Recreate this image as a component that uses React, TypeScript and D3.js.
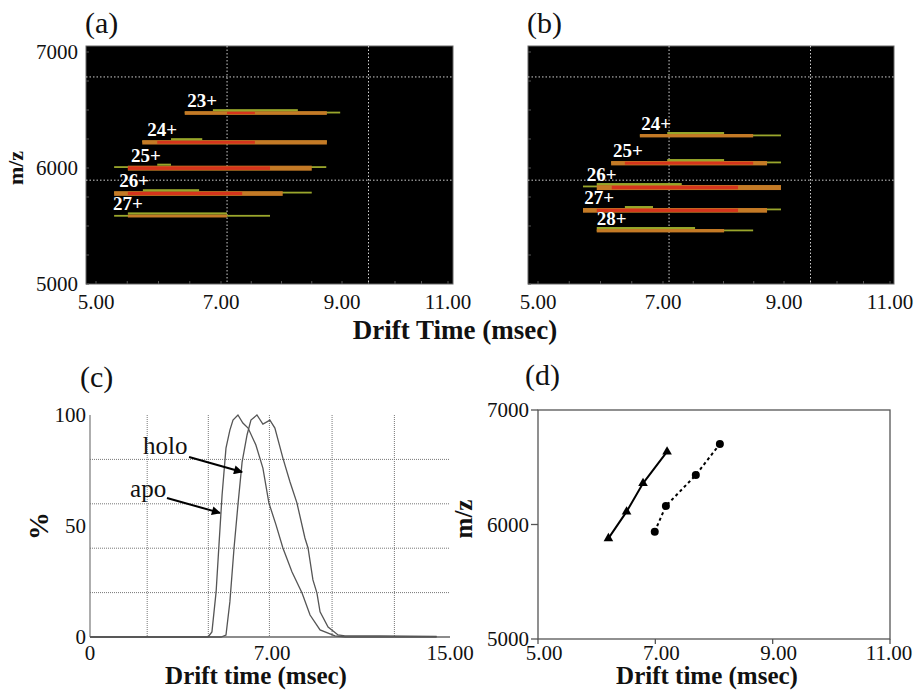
import React, { useEffect, useRef } from 'react';
import * as d3 from 'd3';

// (a) / (b) ion mobility maps
const driftTicks = [5, 7, 9, 11];
const driftTickLabels = ['5.00', '7.00', '9.00', '11.00'];
const mzTicks = [5000, 6000, 7000];
const mapGridDrift = [7.1, 9.5];
const mapGridMz = [5895, 6785];

// arrival time bands per charge state, drift times in msec
const apoIons = [
  { charge: '23+', mz: 6490, level: 0.6, labelAt: 6.46, tail: [6.42, 8.97], body: [6.42, 8.75], hot: [7.1, 7.56], cap: [6.87, 8.27] },
  { charge: '24+', mz: 6240, level: 0.8, labelAt: 5.82, tail: [5.74, 8.75], body: [5.74, 8.75], hot: [5.98, 7.56], cap: [6.2, 6.7] },
  { charge: '25+', mz: 6020, level: 1.0, labelAt: 5.56, tail: [5.29, 8.74], body: [5.51, 8.5], hot: [5.51, 7.81], cap: [5.98, 6.2] },
  { charge: '26+', mz: 5800, level: 0.9, labelAt: 5.37, tail: [5.29, 8.5], body: [5.29, 8.02], hot: [5.51, 7.35], cap: [5.75, 6.65] },
  { charge: '27+', mz: 5600, level: 0.4, labelAt: 5.27, tail: [5.29, 7.81], body: [5.51, 7.1], hot: null, cap: [5.51, 7.1] },
];

const holoIons = [
  { charge: '24+', mz: 6293, level: 0.5, labelAt: 6.65, tail: [6.63, 8.95], body: [6.63, 8.49], hot: null, cap: [7.07, 8.01] },
  { charge: '25+', mz: 6060, level: 0.8, labelAt: 6.2, tail: [6.17, 8.95], body: [6.17, 8.72], hot: [6.39, 8.49], cap: [7.07, 8.01] },
  { charge: '26+', mz: 5853, level: 1.0, labelAt: 5.78, tail: [5.72, 8.95], body: [5.94, 8.95], hot: [6.18, 8.24], cap: [5.94, 7.31] },
  { charge: '27+', mz: 5655, level: 0.9, labelAt: 5.74, tail: [5.72, 8.95], body: [5.72, 8.72], hot: [5.94, 8.24], cap: [6.39, 6.84] },
  { charge: '28+', mz: 5474, level: 0.5, labelAt: 5.94, tail: [5.94, 8.49], body: [5.94, 8.01], hot: null, cap: [5.94, 7.53] },
];

// (c) arrival time distributions, [drift time, %]
const apoProfile = [
  [0, 0], [4.54, 0], [4.69, 2.3], [4.85, 20.3], [4.96, 41.4], [5.08, 64], [5.23, 85.1], [5.38, 93.2],
  [5.5, 97.7], [5.69, 100], [5.88, 96.4], [6.08, 94.1], [6.38, 86.5], [6.65, 76.1], [6.88, 60.4],
  [7.18, 50.5], [7.49, 40.1], [7.9, 29.3], [8.35, 19.8], [8.71, 9.9], [9.16, 3.2], [9.83, 0.5],
  [10.3, 0], [14.4, 0],
];
const holoProfile = [
  [0, 0], [5.04, 0], [5.23, 0.9], [5.38, 15.8], [5.54, 40.1], [5.69, 59.5], [5.85, 78.8], [6.04, 91],
  [6.19, 97.7], [6.42, 100], [6.65, 95.9], [6.92, 97.7], [7.13, 94.1], [7.49, 80.6], [7.81, 69.8],
  [8.12, 60.4], [8.48, 44.6], [8.62, 40.1], [8.84, 25.7], [9.02, 19.8], [9.16, 11.3], [9.52, 4.5],
  [9.97, 0.9], [10.28, 0.5], [11.85, 0.5], [14.4, 0.3],
];
const profileTicks = [0, 7, 15];
const profileTickLabels = ['0', '7.00', '15.00'];
const pctTicks = [0, 50, 100];
const profileGridT = [2.2, 4.55, 6.9, 9.7, 12.5];
const profileGridP = [20, 40, 60, 80];

// (d) drift time vs m/z
const apoArrival = [
  { t: 6.2, mz: 5879 }, { t: 6.51, mz: 6112 }, { t: 6.79, mz: 6360 }, { t: 7.2, mz: 6636 },
];
const holoArrival = [
  { t: 6.99, mz: 5937 }, { t: 7.18, mz: 6162 }, { t: 7.69, mz: 6432 }, { t: 8.1, mz: 6703 },
];

const serif = "'Liberation Serif', 'Times New Roman', serif";

const App = () => {
  const svgRef = useRef(null);

  useEffect(() => {
    const svg = d3.select(svgRef.current);
    svg.selectAll('*').remove();

    svg.append('defs').append('marker')
      .attr('id', 'arrow')
      .attr('viewBox', '0 0 10 10')
      .attr('refX', 9).attr('refY', 5)
      .attr('markerUnits', 'userSpaceOnUse')
      .attr('markerWidth', 11).attr('markerHeight', 9)
      .attr('orient', 'auto')
      .append('path').attr('d', 'M0,0 L10,5 L0,10 z').attr('fill', '#000');

    const text = (x, y, s, size, opts = {}) =>
      svg.append('text')
        .attr('x', x).attr('y', y)
        .attr('font-family', serif)
        .attr('font-size', size)
        .attr('font-weight', opts.bold ? 'bold' : 'normal')
        .attr('text-anchor', opts.anchor || 'start')
        .attr('fill', opts.fill || '#111')
        .attr('transform', opts.rotate ? `rotate(-90, ${x}, ${y})` : null)
        .attr('dominant-baseline', opts.rotate ? 'middle' : null)
        .text(s);

    // ---- (a) and (b): heat maps
    const top = 46, bottom = 284;
    const thick = d3.scaleLinear().domain([0, 1]).range([1.8, 5]);

    const drawMap = (left, width, ions, showY, tag) => {
      const x = d3.scaleLinear().domain(driftTicks).range([left + 10, left + 135, left + 256, left + 362]);
      const y = d3.scaleLinear().domain([5000, 7000]).range([bottom, 52]);
      const g = svg.append('g');

      g.append('rect')
        .attr('x', left).attr('y', top).attr('width', width).attr('height', bottom - top)
        .attr('fill', '#000').attr('stroke', '#666').attr('stroke-width', 1);

      // faint minor ticks inside the frame
      g.selectAll('.mx').data(d3.range(5, 11.01, 0.5)).join('line')
        .attr('x1', (d) => x(d)).attr('x2', (d) => x(d))
        .attr('y1', bottom).attr('y2', bottom - 3)
        .attr('stroke', '#555').attr('stroke-width', 1);
      g.selectAll('.my').data(d3.range(5000, 7001, 250)).join('line')
        .attr('x1', left).attr('x2', left + 3)
        .attr('y1', (d) => y(d)).attr('y2', (d) => y(d))
        .attr('stroke', '#555').attr('stroke-width', 1);

      g.selectAll('.gx').data(mapGridDrift).join('line')
        .attr('x1', (d) => x(d)).attr('x2', (d) => x(d))
        .attr('y1', top).attr('y2', bottom)
        .attr('stroke', '#cfcfcf').attr('stroke-width', 1).attr('stroke-dasharray', '1.5,2');
      g.selectAll('.gy').data(mapGridMz).join('line')
        .attr('x1', left).attr('x2', left + width)
        .attr('y1', (d) => y(d)).attr('y2', (d) => y(d))
        .attr('stroke', '#cfcfcf').attr('stroke-width', 1).attr('stroke-dasharray', '1.5,2');

      const band = (cls, key, dy, h, fill) =>
        g.selectAll(cls).data(ions.filter((d) => d[key])).join('rect')
          .attr('x', (d) => x(d[key][0]))
          .attr('width', (d) => x(d[key][1]) - x(d[key][0]))
          .attr('y', (d) => y(d.mz) + dy(d))
          .attr('height', (d) => h(d))
          .attr('fill', fill);

      band('.tail', 'tail', () => 0.5, () => 1.8, '#9aa62c');
      band('.body', 'body', () => 0, (d) => thick(d.level), '#c47a26');
      band('.hot', 'hot', () => 0.7, (d) => thick(d.level) - 1.5, '#d5341c');
      band('.cap', 'cap', () => -2, () => 2, '#98a62a');

      g.selectAll('.lab').data(ions).join('text')
        .attr('x', (d) => x(d.labelAt))
        .attr('y', (d) => y(d.mz) - 4)
        .attr('font-family', serif).attr('font-size', 19).attr('font-weight', 'bold')
        .attr('fill', '#fff')
        .text((d) => d.charge);

      g.selectAll('.xt').data(driftTicks).join('text')
        .attr('x', (d) => x(d)).attr('y', 309)
        .attr('text-anchor', 'middle')
        .attr('font-family', serif).attr('font-size', 21).attr('fill', '#111')
        .text((d, i) => driftTickLabels[i]);

      if (showY) {
        g.selectAll('.yt').data(mzTicks).join('text')
          .attr('x', left - 8).attr('y', (d) => y(d) + 7)
          .attr('text-anchor', 'end')
          .attr('font-family', serif).attr('font-size', 21).attr('fill', '#111')
          .text((d) => d);
      }

      text(left - 1, 33, tag, 30);
    };

    drawMap(86, 367, apoIons, true, '(a)');
    drawMap(528, 366, holoIons, false, '(b)');
    text(18, 168, 'm/z', 22, { bold: true, rotate: true, anchor: 'middle' });
    text(455, 339, 'Drift Time (msec)', 27, { bold: true, anchor: 'middle' });

    // ---- (c): arrival time distributions
    {
      const x = d3.scaleLinear().domain(profileTicks).range([90, 272, 450]);
      const y = d3.scaleLinear().domain([0, 100]).range([637, 415]);
      const g = svg.append('g');

      g.selectAll('.gx').data(profileGridT).join('line')
        .attr('x1', (d) => x(d)).attr('x2', (d) => x(d))
        .attr('y1', y(100)).attr('y2', y(0))
        .attr('stroke', '#777').attr('stroke-width', 1).attr('stroke-dasharray', '1,1');
      g.selectAll('.gy').data(profileGridP).join('line')
        .attr('x1', x(0)).attr('x2', x(15))
        .attr('y1', (d) => y(d)).attr('y2', (d) => y(d))
        .attr('stroke', '#777').attr('stroke-width', 1).attr('stroke-dasharray', '1,1');

      g.append('line').attr('x1', x(0)).attr('x2', x(0)).attr('y1', y(100)).attr('y2', y(0))
        .attr('stroke', '#777').attr('stroke-width', 1.2);
      g.append('line').attr('x1', x(0)).attr('x2', x(15)).attr('y1', y(0)).attr('y2', y(0))
        .attr('stroke', '#666').attr('stroke-width', 1.4);

      const line = d3.line().x((d) => x(d[0])).y((d) => y(d[1]));
      [apoProfile, holoProfile].forEach((p) => {
        g.append('path').datum(p).attr('d', line)
          .attr('fill', 'none').attr('stroke', '#555').attr('stroke-width', 1.3);
      });

      g.selectAll('.yt').data(pctTicks).join('text')
        .attr('x', 86).attr('y', (d) => y(d) + 7)
        .attr('text-anchor', 'end')
        .attr('font-family', serif).attr('font-size', 21).attr('fill', '#111')
        .text((d) => d);
      g.selectAll('.xt').data(profileTicks).join('text')
        .attr('x', (d) => x(d)).attr('y', 660)
        .attr('text-anchor', 'middle')
        .attr('font-family', serif).attr('font-size', 21).attr('fill', '#111')
        .text((d, i) => profileTickLabels[i]);

      // labels with arrows
      text(x(2.04), y(82.4), 'holo', 25);
      g.append('line')
        .attr('x1', x(3.81)).attr('y1', y(81.1)).attr('x2', x(5.85)).attr('y2', y(74.3))
        .attr('stroke', '#000').attr('stroke-width', 2).attr('marker-end', 'url(#arrow)');
      text(x(1.54), y(63.1), 'apo', 25);
      g.append('line')
        .attr('x1', x(2.96)).attr('y1', y(62.6)).attr('x2', x(5.0)).attr('y2', y(55.9))
        .attr('stroke', '#000').attr('stroke-width', 2).attr('marker-end', 'url(#arrow)');

      text(42, 526, '%', 28, { bold: true, rotate: true, anchor: 'middle' });
      text(256, 684, 'Drift time (msec)', 25, { bold: true, anchor: 'middle' });
      text(80, 387, '(c)', 30);
    }

    // ---- (d): drift time vs m/z
    {
      const x = d3.scaleLinear().domain([5, 11]).range([538, 890]);
      const y = d3.scaleLinear().domain([5000, 7000]).range([639, 410]);
      const g = svg.append('g');

      g.append('rect')
        .attr('x', x(5)).attr('y', y(7000)).attr('width', x(11) - x(5)).attr('height', y(5000) - y(7000))
        .attr('fill', 'none').attr('stroke', '#555').attr('stroke-width', 1.3);

      g.selectAll('.ty').data(mzTicks).join('line')
        .attr('x1', x(5) - 7).attr('x2', x(5))
        .attr('y1', (d) => y(d)).attr('y2', (d) => y(d))
        .attr('stroke', '#555').attr('stroke-width', 1.3);
      g.selectAll('.tx').data(driftTicks).join('line')
        .attr('x1', (d) => x(d)).attr('x2', (d) => x(d))
        .attr('y1', y(5000)).attr('y2', y(5000) + 5)
        .attr('stroke', '#555').attr('stroke-width', 1.3);

      g.selectAll('.yt').data(mzTicks).join('text')
        .attr('x', x(5) - 9).attr('y', (d) => y(d) + 7)
        .attr('text-anchor', 'end')
        .attr('font-family', serif).attr('font-size', 21).attr('fill', '#111')
        .text((d) => d);
      g.selectAll('.xt').data(driftTicks).join('text')
        .attr('x', (d) => Math.min(x(d) + 6, 889)).attr('y', 660)
        .attr('text-anchor', 'middle')
        .attr('font-family', serif).attr('font-size', 21).attr('fill', '#111')
        .text((d, i) => driftTickLabels[i]);

      const line = d3.line().x((d) => x(d.t)).y((d) => y(d.mz));
      g.append('path').datum(apoArrival).attr('d', line)
        .attr('fill', 'none').attr('stroke', '#000').attr('stroke-width', 2);
      g.append('path').datum(holoArrival).attr('d', line)
        .attr('fill', 'none').attr('stroke', '#000').attr('stroke-width', 2).attr('stroke-dasharray', '3,3');

      g.selectAll('.tri').data(apoArrival).join('path')
        .attr('d', d3.symbol(d3.symbolTriangle).size(40))
        .attr('transform', (d) => `translate(${x(d.t)},${y(d.mz)})`)
        .attr('fill', '#000');
      g.selectAll('.dot').data(holoArrival).join('circle')
        .attr('cx', (d) => x(d.t)).attr('cy', (d) => y(d.mz)).attr('r', 4)
        .attr('fill', '#000');

      text(466, 519, 'm/z', 25, { bold: true, rotate: true, anchor: 'middle' });
      text(707, 684, 'Drift time (msec)', 25, { bold: true, anchor: 'middle' });
      text(525, 385, '(d)', 30);
    }
  }, []);

  return (
    <svg
      ref={svgRef}
      width={915}
      height={690}
      style={{ position: 'absolute', left: 0, top: 0, background: '#fff' }}
    />
  );
};

export default App;
